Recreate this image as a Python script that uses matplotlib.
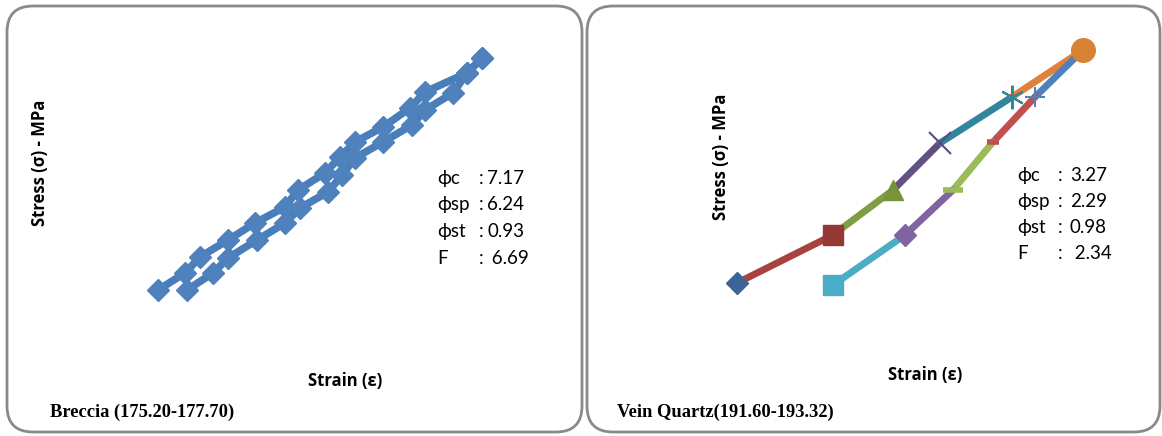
import matplotlib.pyplot as plt
from matplotlib.patches import FancyBboxPatch

# Breccia: loading / unloading path (strain, stress in chart units)
brec_load_x = [1.8, 4.5, 6.0, 8.8, 11.5, 14.5, 15.8, 18.5, 20.0, 21.5, 24.3, 27.0, 28.5, 32.7, 34.2]
brec_load_y = [2.0, 3.7, 5.3, 7.0, 8.7, 10.3, 12.0, 13.7, 15.3, 16.8, 18.3, 20.2, 21.8, 23.7, 25.2]
brec_unload_x = [34.2, 32.7, 31.3, 28.5, 27.2, 24.3, 21.5, 20.2, 18.8, 16.0, 14.5, 11.7, 8.8, 7.3, 4.7]
brec_unload_y = [25.2, 23.7, 21.7, 20.0, 18.5, 16.8, 15.2, 13.5, 11.8, 10.2, 8.7, 7.0, 5.2, 3.7, 2.0]

# Vein quartz: loading then unloading
vq_load_x = [1.7, 11.3, 17.3, 22.0, 29.2, 36.3]
vq_load_y = [1.7, 6.5, 11.0, 15.7, 20.3, 25.0]
vq_unload_x = [36.3, 31.5, 27.3, 23.3, 18.5, 11.3]
vq_unload_y = [25.0, 20.3, 15.8, 11.0, 6.5, 1.5]

brec_stats = [("ϕc", "7.17"), ("ϕsp", "6.24"), ("ϕst", "0.93"), ("F", " 6.69")]
vq_stats = [("ϕc", "3.27"), ("ϕsp", "2.29"), ("ϕst", "0.98"), ("F", " 2.34")]

W, H = 1162, 436
fig = plt.figure(figsize=(W / 100, H / 100), dpi=100)

bg = fig.add_axes([0, 0, 1, 1])
bg.set_xlim(0, W)
bg.set_ylim(H, 0)
bg.axis('off')

# rounded panel frames
for x0, x1 in [(7, 582), (587, 1160)]:
    bg.add_patch(FancyBboxPatch((x0, 6), x1 - x0, 426, boxstyle="round,pad=0,rounding_size=26",
                                fc='white', ec='#8a8a8a', lw=2))

sans = 'Lato'

def px_axes(x0, y0, x1, y1):
    ax = fig.add_axes([x0 / W, 1 - y1 / H, (x1 - x0) / W, (y1 - y0) / H])
    ax.set_xlim(0, (x1 - x0) / 10)
    ax.set_ylim(0, (y1 - y0) / 10)
    ax.axis('off')
    return ax

# left chart
ax1 = px_axes(140, 40, 500, 310)
blue = '#4A7EBB'
ax1.plot(brec_load_x, brec_load_y, color=blue, lw=5.5, marker='D', ms=11, mfc='#4F81BD', mec='#4F81BD', zorder=3)
ax1.plot(brec_unload_x, brec_unload_y, color=blue, lw=5.5, marker='D', ms=11, mfc='#4F81BD', mec='#4F81BD', zorder=3)

# right chart
ax2 = px_axes(720, 30, 1100, 300)
load_line = ['#A8423F', '#7F9D42', '#64507F', '#31859C', '#E0823C']
load_mk = [('D', '#3C6496', 11), ('s', '#953735', 15), ('^', '#77933C', 15), ('x', '#604A7B', 16),
           ('*', '#31859C', 1), ('o', '#D88234', 17)]
unload_line = ['#4F81BD', '#C0504D', '#9BBB59', '#8064A2', '#4BACC6']
unload_mk = [('+', '#4F81BD', 14), ('_', '#C0504D', 9), ('_', '#9BBB59', 15), ('D', '#8064A2', 11),
             ('s', '#4BACC6', 15)]

for i, c in enumerate(load_line):
    ax2.plot(vq_load_x[i:i + 2], vq_load_y[i:i + 2], color=c, lw=5, solid_capstyle='round', zorder=2)
for i, c in enumerate(unload_line):
    ax2.plot(vq_unload_x[i:i + 2], vq_unload_y[i:i + 2], color=c, lw=5, solid_capstyle='round', zorder=2)

for (m, c, s), x, y in zip(load_mk, vq_load_x, vq_load_y):
    if m == '*':
        # asterisk-style star marker
        ax2.plot(x, y, marker=(6, 2, 0), ms=17, mec=c, mew=1.5, zorder=4)
    elif m == 'x':
        ax2.plot(x, y, marker=m, ms=s, mec=c, mew=1.5, zorder=4)
    else:
        ax2.plot(x, y, marker=m, ms=s, mfc=c, mec=c, zorder=4)
for (m, c, s), x, y in zip(unload_mk, vq_unload_x[1:], vq_unload_y[1:]):
    if m in '+_':
        ax2.plot(x, y, marker=m, ms=s, mec=c, mew=4 if m == '_' else 1.5, zorder=4)
    else:
        ax2.plot(x, y, marker=m, ms=s, mfc=c, mec=c, zorder=4)

# axis labels
lab = dict(fontsize=12, fontweight='bold', family='Open Sans', ha='center', va='center')
bg.text(40, 163, "Stress (σ) - MPa", rotation=90, **lab)
bg.text(345, 381, "Strain (ε)", **lab)
bg.text(721, 157, "Stress (σ) - MPa", rotation=90, **lab)
bg.text(925, 375, "Strain (ε)", **lab)

# stats
st = dict(fontsize=13.5, family=sans, va='center')
for i, (k, v) in enumerate(brec_stats):
    y = 178 + i * 26.7
    bg.text(437, y, k, **st)
    bg.text(479, y, ":", **st)
    bg.text(487, y, v, **st)
for i, (k, v) in enumerate(vq_stats):
    y = 175 + i * 26
    bg.text(1017, y, k, **st)
    bg.text(1058, y, ":", **st)
    bg.text(1070, y, v, **st)

ttl = dict(fontsize=13.3, fontweight='bold', family='Liberation Serif', va='center')
bg.text(50, 412, "Breccia (175.20-177.70)", **ttl)
bg.text(617, 412, "Vein Quartz(191.60-193.32)", **ttl)

fig.savefig('out.png', dpi=100)
